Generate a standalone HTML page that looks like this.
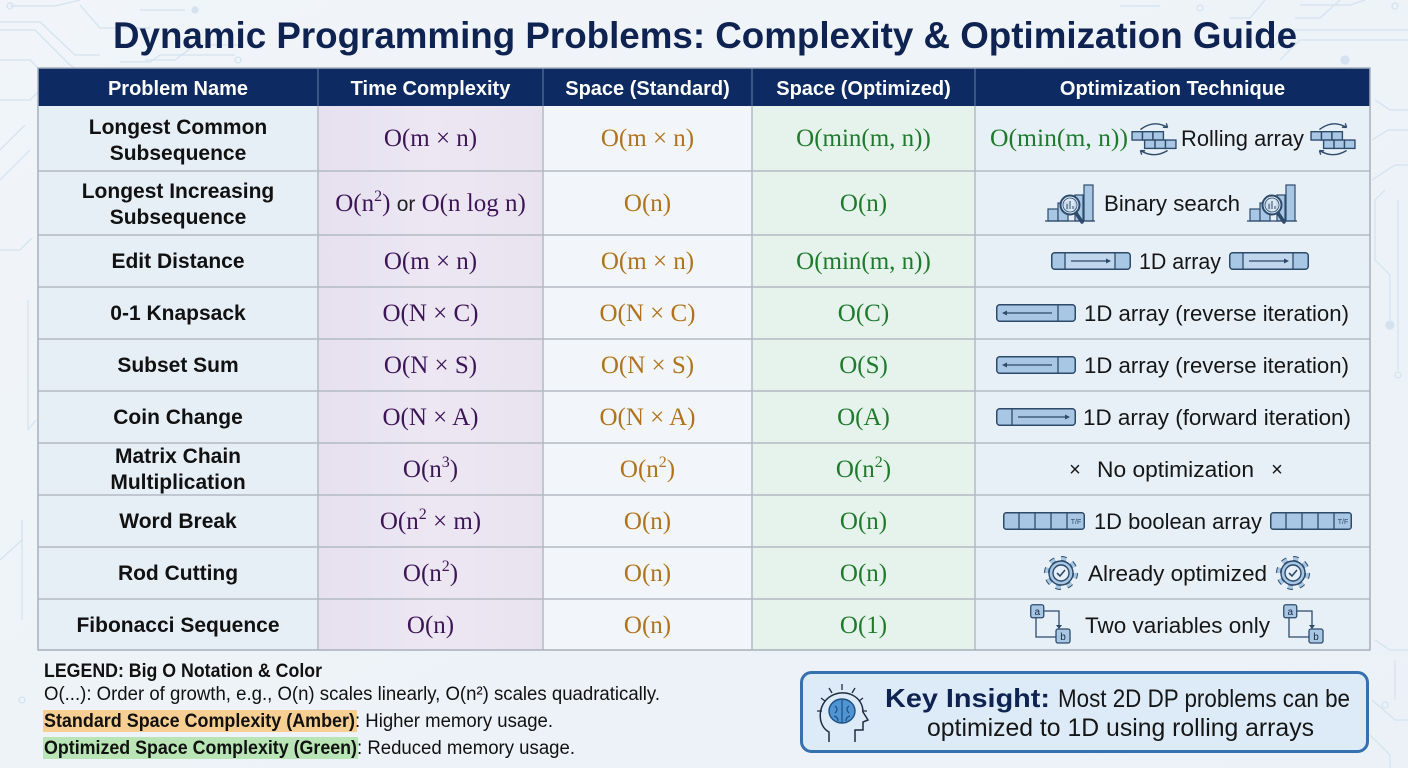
<!DOCTYPE html>
<html><head><meta charset="utf-8"><style>
html,body{margin:0;padding:0;background:#eef3f8;}
svg{display:block;}
</style></head><body>
<svg width="1408" height="768" viewBox="0 0 1408 768" xmlns="http://www.w3.org/2000/svg">
<defs>
<linearGradient id="bg" x1="0" y1="0" x2="1" y2="1"><stop offset="0" stop-color="#f1f5f9"/><stop offset="1" stop-color="#ebf1f7"/></linearGradient>
<linearGradient id="lav" x1="0" y1="0" x2="1" y2="0"><stop offset="0" stop-color="#e6e0ef"/><stop offset="0.5" stop-color="#ece7f3"/><stop offset="1" stop-color="#e9e3f0"/></linearGradient>
<symbol id="roll" viewBox="0 0 44 34">
<path d="M9 8 Q22 -2 35 6" fill="none" stroke="#2d4a6b" stroke-width="1.3"/>
<path d="M35 6 l-4.5 -0.3 M35 6 l-1.2 -4" stroke="#2d4a6b" stroke-width="1.3" fill="none"/>
<g fill="#a8c7e5" stroke="#2d4a6b" stroke-width="1.3">
<rect x="1" y="10" width="10" height="8"/><rect x="11" y="10" width="10" height="8"/><rect x="21" y="10" width="10" height="8"/>
<rect x="13" y="18" width="10" height="8"/><rect x="23" y="18" width="10" height="8"/><rect x="33" y="18" width="10" height="8"/>
</g>
<path d="M35 28 Q22 36 9 28" fill="none" stroke="#2d4a6b" stroke-width="1.3"/>
<path d="M9 28 l4.5 0.3 M9 28 l1.2 4" stroke="#2d4a6b" stroke-width="1.3" fill="none"/>
</symbol>
<symbol id="bs" viewBox="0 0 50 42">
<g fill="#a8c7e5" stroke="#2d4a6b" stroke-width="1.2">
<rect x="3" y="27" width="10" height="12"/><rect x="13" y="21" width="10" height="18"/><rect x="30" y="13" width="8" height="26"/><rect x="39" y="3" width="9" height="36"/>
</g>
<line x1="0" y1="39" x2="50" y2="39" stroke="#2d4a6b" stroke-width="1.2"/>
<line x1="31" y1="31" x2="37" y2="40" stroke="#2d4a6b" stroke-width="3.5" stroke-linecap="round"/>
<circle cx="25" cy="23" r="9.5" fill="#d7e6f4" fill-opacity="0.85" stroke="#2d4a6b" stroke-width="2"/>
<circle cx="25" cy="23" r="7" fill="none" stroke="#2d4a6b" stroke-width="0.8"/>
<path d="M22 27 v-5 M25 27 v-8 M28 27 v-3" stroke="#2d4a6b" stroke-width="1"/>
</symbol>
<symbol id="arrB" viewBox="0 0 80 18">
<rect x="0.75" y="0.75" width="78.5" height="16.5" rx="3" fill="#a8c7e5" stroke="#2d4a6b" stroke-width="1.5"/>
<rect x="14" y="1.5" width="50" height="15" fill="#bfd6ec"/>
<path d="M14 1 V17 M64 1 V17" stroke="#2d4a6b" stroke-width="1.3"/>
<line x1="20" y1="9" x2="56" y2="9" stroke="#2d4a6b" stroke-width="1.2"/>
<path d="M60 9 l-5 -2.5 v5z" fill="#2d4a6b"/>
</symbol>
<symbol id="arrRev" viewBox="0 0 80 18">
<rect x="0.75" y="0.75" width="78.5" height="16.5" rx="3" fill="#a8c7e5" stroke="#2d4a6b" stroke-width="1.5"/>
<path d="M62 1 V17" stroke="#2d4a6b" stroke-width="1.3"/>
<line x1="10" y1="9" x2="56" y2="9" stroke="#2d4a6b" stroke-width="1.2"/>
<path d="M6 9 l5 -2.5 v5z" fill="#2d4a6b"/>
</symbol>
<symbol id="arrFwd" viewBox="0 0 80 18">
<rect x="0.75" y="0.75" width="78.5" height="16.5" rx="3" fill="#a8c7e5" stroke="#2d4a6b" stroke-width="1.5"/>
<path d="M16 1 V17" stroke="#2d4a6b" stroke-width="1.3"/>
<line x1="22" y1="9" x2="70" y2="9" stroke="#2d4a6b" stroke-width="1.2"/>
<path d="M74 9 l-5 -2.5 v5z" fill="#2d4a6b"/>
</symbol>
<symbol id="bool" viewBox="0 0 82 18">
<rect x="0.75" y="0.75" width="80.5" height="16.5" rx="2.5" fill="#a8c7e5" stroke="#2d4a6b" stroke-width="1.5"/>
<path d="M16 1 V17 M32 1 V17 M48 1 V17 M64 1 V17" stroke="#2d4a6b" stroke-width="1.3"/>
<text x="73" y="12" font-family="Liberation Sans, sans-serif" font-size="7" text-anchor="middle" fill="#2d4a6b">T/F</text>
</symbol>
<symbol id="gear" viewBox="0 0 34 34">
<circle cx="17" cy="17" r="14.5" fill="none" stroke="#2d4a6b" stroke-width="5" stroke-dasharray="5.2 6.18"/>
<circle cx="17" cy="17" r="14.5" fill="none" stroke="#a8c7e5" stroke-width="3" stroke-dasharray="5.2 6.18"/>
<circle cx="17" cy="17" r="12" fill="#a8c7e5" stroke="#2d4a6b" stroke-width="1.4"/>
<circle cx="17" cy="17" r="8" fill="#e6eff8" stroke="#2d4a6b" stroke-width="1.4"/>
<path d="M13 17 l3 3 l5 -6" fill="none" stroke="#2d4a6b" stroke-width="1.6"/>
</symbol>
<symbol id="ab" viewBox="0 0 42 40">
<path d="M14 7 H29 V22 M6 14 V33 H26" fill="none" stroke="#2d4a6b" stroke-width="1.3"/>
<path d="M29 25 l-3 -4 h6z" fill="#2d4a6b"/>
<rect x="0.75" y="0.75" width="13" height="13" rx="2" fill="#a8c7e5" stroke="#2d4a6b" stroke-width="1.3"/>
<rect x="26" y="25" width="14" height="14" rx="2" fill="#a8c7e5" stroke="#2d4a6b" stroke-width="1.3"/>
<text x="7.3" y="11" font-family="Liberation Sans, sans-serif" font-size="10" text-anchor="middle" fill="#1a2a40">a</text>
<text x="33" y="36" font-family="Liberation Sans, sans-serif" font-size="10" text-anchor="middle" fill="#1a2a40">b</text>
</symbol>
</defs>

<rect width="1408" height="768" fill="url(#bg)"/>

<!-- circuit background -->
<g fill="none" stroke="#d3e2ee" stroke-width="1.2">
<path d="M10 6 H55 L80 0"/><circle cx="10" cy="6" r="3"/>
<path d="M0 22 H40 L75 55 H100"/><path d="M0 30 H35 L70 65 L95 80"/>
<path d="M80 5 L100 28 L150 28"/><path d="M0 60 H30 L60 90"/>
<path d="M145 60 L175 60 L195 45 H240"/><circle cx="195" cy="10" r="3" fill="#d3e2ee"/>
<path d="M140 10 H185"/><path d="M120 62 L150 62 L160 55 H235"/><circle cx="238" cy="60" r="3"/>
<path d="M0 100 H30 L45 85"/><path d="M0 150 L25 125"/><path d="M0 180 L30 150"/>
<path d="M0 250 H20 L32 238"/><path d="M28 300 V430"/><path d="M22 520 V620"/><circle cx="22" cy="700" r="3"/>
<path d="M0 560 L22 540 V520"/><path d="M28 430 L36 420"/>
<path d="M1120 6 H1160"/><circle cx="1200" cy="8" r="3"/><path d="M1265 0 L1250 18 H1230"/>
<path d="M1300 5 H1350 L1365 0"/><circle cx="1395" cy="6" r="3"/><path d="M1295 18 L1320 18 L1340 0"/>
<path d="M1280 60 L1300 40 H1408"/><path d="M1270 50 L1290 30 H1408"/><circle cx="1345" cy="60" r="4" fill="#d3e2ee"/>
<path d="M1375 100 L1390 110 H1408"/><path d="M1372 140 L1388 130 H1408"/><path d="M1372 180 L1395 165 H1408"/>
<path d="M1385 190 L1375 200 V260 L1390 275 V320"/><circle cx="1390" cy="325" r="4" fill="#d3e2ee"/>
<path d="M1398 200 V370"/><circle cx="1398" cy="375" r="3"/>
<path d="M1375 640 L1390 650 H1408"/><path d="M1372 700 L1395 720 H1408"/><path d="M1395 660 V700"/>
<path d="M1370 735 L1390 755 V768"/><circle cx="1385" cy="705" r="3"/>
</g>

<!-- title -->
<text x="705" y="48" text-anchor="middle" font-family="Liberation Sans, sans-serif" font-weight="bold" font-size="37" fill="#0f2352" textLength="1184" lengthAdjust="spacingAndGlyphs">Dynamic Programming Problems: Complexity &amp; Optimization Guide</text>

<!-- table column fills -->
<rect x="38" y="106" width="280" height="544" fill="#e6eef6"/>
<rect x="318" y="106" width="225" height="544" fill="url(#lav)"/>
<rect x="543" y="106" width="209" height="544" fill="#f2f5f9"/>
<rect x="752" y="106" width="223" height="544" fill="#e6f2ec"/>
<rect x="975" y="106" width="395" height="544" fill="#e8f0f7"/>

<!-- header -->
<rect x="38" y="68" width="1332" height="38" fill="#0d2b62"/>
<g stroke="#5a6f95" stroke-width="1.2"><path d="M318 68 V106 M543 68 V106 M752 68 V106 M975 68 V106"/></g>
<g font-family="Liberation Sans, sans-serif" font-weight="bold" font-size="20" fill="#ffffff" text-anchor="middle">
<text x="178" y="95">Problem Name</text>
<text x="430.5" y="95">Time Complexity</text>
<text x="647.5" y="95">Space (Standard)</text>
<text x="863.5" y="95">Space (Optimized)</text>
<text x="1172.5" y="95">Optimization Technique</text>
</g>

<!-- grid -->
<g stroke="#b3bac4" stroke-width="1.5" fill="none">
<path d="M38 171 H1370 M38 235 H1370 M38 287 H1370 M38 339 H1370 M38 391 H1370 M38 443 H1370 M38 495 H1370 M38 547 H1370 M38 599 H1370"/>
<path d="M318 106 V650 M543 106 V650 M752 106 V650 M975 106 V650"/>
<rect x="38" y="68" width="1332" height="582" stroke="#a7b0bb"/>
</g>

<!-- problem names -->
<g font-family="Liberation Sans, sans-serif" font-weight="bold" font-size="21" fill="#111111" text-anchor="middle">
<text x="178" y="134">Longest Common</text>
<text x="178" y="160">Subsequence</text>
<text x="178" y="198">Longest Increasing</text>
<text x="178" y="224">Subsequence</text>
<text x="178" y="268">Edit Distance</text>
<text x="178" y="320">0-1 Knapsack</text>
<text x="178" y="372">Subset Sum</text>
<text x="178" y="424">Coin Change</text>
<text x="178" y="463">Matrix Chain</text>
<text x="178" y="489">Multiplication</text>
<text x="178" y="528">Word Break</text>
<text x="178" y="580">Rod Cutting</text>
<text x="178" y="632">Fibonacci Sequence</text>
</g>

<!-- time complexity -->
<g font-family="Liberation Serif, serif" font-size="25" fill="#3d1557" text-anchor="middle">
<text x="430.5" y="146">O(m × n)</text>
<text x="430.5" y="211">O(n<tspan font-size="16" dy="-10">2</tspan><tspan dy="10">) </tspan><tspan font-family="Liberation Sans, sans-serif" font-size="21" fill="#222">or</tspan> O(n log n)</text>
<text x="430.5" y="269">O(m × n)</text>
<text x="430.5" y="321">O(N × C)</text>
<text x="430.5" y="373">O(N × S)</text>
<text x="430.5" y="425">O(N × A)</text>
<text x="430.5" y="477">O(n<tspan font-size="16" dy="-10">3</tspan><tspan dy="10">)</tspan></text>
<text x="430.5" y="529">O(n<tspan font-size="16" dy="-10">2</tspan><tspan dy="10"> × m)</tspan></text>
<text x="430.5" y="581">O(n<tspan font-size="16" dy="-10">2</tspan><tspan dy="10">)</tspan></text>
<text x="430.5" y="633">O(n)</text>
</g>

<!-- space standard -->
<g font-family="Liberation Serif, serif" font-size="25" fill="#b0731c" text-anchor="middle">
<text x="647.5" y="146">O(m × n)</text>
<text x="647.5" y="211">O(n)</text>
<text x="647.5" y="269">O(m × n)</text>
<text x="647.5" y="321">O(N × C)</text>
<text x="647.5" y="373">O(N × S)</text>
<text x="647.5" y="425">O(N × A)</text>
<text x="647.5" y="477">O(n<tspan font-size="16" dy="-10">2</tspan><tspan dy="10">)</tspan></text>
<text x="647.5" y="529">O(n)</text>
<text x="647.5" y="581">O(n)</text>
<text x="647.5" y="633">O(n)</text>
</g>

<!-- space optimized -->
<g font-family="Liberation Serif, serif" font-size="25" fill="#1e7b2c" text-anchor="middle">
<text x="863.5" y="146">O(min(m, n))</text>
<text x="863.5" y="211">O(n)</text>
<text x="863.5" y="269">O(min(m, n))</text>
<text x="863.5" y="321">O(C)</text>
<text x="863.5" y="373">O(S)</text>
<text x="863.5" y="425">O(A)</text>
<text x="863.5" y="477">O(n<tspan font-size="16" dy="-10">2</tspan><tspan dy="10">)</tspan></text>
<text x="863.5" y="529">O(n)</text>
<text x="863.5" y="581">O(n)</text>
<text x="863.5" y="633">O(1)</text>
</g>

<!-- optimization technique -->
<text x="990" y="146" font-family="Liberation Serif, serif" font-size="25" fill="#1e7b2c" textLength="138" lengthAdjust="spacingAndGlyphs">O(min(m, n))</text>
<use href="#roll" x="1131" y="121" width="46" height="36"/>
<use href="#roll" x="1310" y="121" width="46" height="36"/>
<use href="#bs" x="1045" y="182" width="50" height="42"/>
<use href="#bs" x="1247" y="182" width="50" height="42"/>
<use href="#arrB" x="1051" y="252" width="80" height="18"/>
<use href="#arrB" x="1229" y="252" width="80" height="18"/>
<use href="#arrRev" x="996" y="304" width="80" height="18"/>
<use href="#arrRev" x="996" y="356" width="80" height="18"/>
<use href="#arrFwd" x="996" y="408" width="80" height="18"/>
<use href="#bool" x="1003" y="512" width="82" height="18"/>
<use href="#bool" x="1270" y="512" width="82" height="18"/>
<use href="#gear" x="1044" y="556" width="34" height="34"/>
<use href="#gear" x="1276" y="556" width="34" height="34"/>
<use href="#ab" x="1030" y="604" width="42" height="40"/>
<use href="#ab" x="1283" y="604" width="42" height="40"/>
<g font-family="Liberation Sans, sans-serif" font-size="22" fill="#161616">
<text x="1181" y="146" textLength="123" lengthAdjust="spacingAndGlyphs">Rolling array</text>
<text x="1104" y="211" textLength="136" lengthAdjust="spacingAndGlyphs">Binary search</text>
<text x="1139" y="269" textLength="82" lengthAdjust="spacingAndGlyphs">1D array</text>
<text x="1084" y="321" textLength="265" lengthAdjust="spacingAndGlyphs">1D array (reverse iteration)</text>
<text x="1084" y="373" textLength="265" lengthAdjust="spacingAndGlyphs">1D array (reverse iteration)</text>
<text x="1083" y="425" textLength="268" lengthAdjust="spacingAndGlyphs">1D array (forward iteration)</text>
<text x="1075" y="476" text-anchor="middle" font-size="20">×</text>
<text x="1097" y="477" textLength="157" lengthAdjust="spacingAndGlyphs">No optimization</text>
<text x="1277" y="476" text-anchor="middle" font-size="20">×</text>
<text x="1094" y="529" textLength="168" lengthAdjust="spacingAndGlyphs">1D boolean array</text>
<text x="1088" y="581" textLength="179" lengthAdjust="spacingAndGlyphs">Already optimized</text>
<text x="1085" y="633" textLength="185" lengthAdjust="spacingAndGlyphs">Two variables only</text>
</g>

<!-- legend -->
<rect x="43" y="710" width="314" height="22" fill="#f8cf92"/>
<rect x="43" y="737" width="315" height="22" fill="#b9e5b6"/>
<g font-family="Liberation Sans, sans-serif" font-size="19" fill="#111111">
<text x="44" y="677" font-weight="bold" textLength="278" lengthAdjust="spacingAndGlyphs">LEGEND: Big O Notation &amp; Color</text>
<text x="44" y="700" textLength="616" lengthAdjust="spacingAndGlyphs">O(...): Order of growth, e.g., O(n) scales linearly, O(n²) scales quadratically.</text>
<text x="44" y="727" font-weight="bold" textLength="311" lengthAdjust="spacingAndGlyphs">Standard Space Complexity (Amber)</text>
<text x="355" y="727" textLength="198" lengthAdjust="spacingAndGlyphs">: Higher memory usage.</text>
<text x="44" y="754" font-weight="bold" textLength="313" lengthAdjust="spacingAndGlyphs">Optimized Space Complexity (Green)</text>
<text x="357" y="754" textLength="218" lengthAdjust="spacingAndGlyphs">: Reduced memory usage.</text>
</g>

<!-- key insight -->
<rect x="801.5" y="672.5" width="566" height="79" rx="10" fill="#dcebf7" stroke="#3471ae" stroke-width="3"/>
<g transform="translate(815,682)">
<path d="M14 60 V50 C2 44 2 22 16 14 C30 6 48 14 48 30 L53 38 L48 40 V48 H40 V60" fill="none" stroke="#1f2d40" stroke-width="1.5"/>
<ellipse cx="27" cy="29" rx="13" ry="12" fill="#4f95d3" stroke="#1f4f80" stroke-width="1.4"/>
<path d="M27 18 V41 M20 24 q4 3 0 7 M34 24 q-4 3 0 7 M19 34 q4 1 4 5 M35 34 q-4 1 -4 5" fill="none" stroke="#1f4f80" stroke-width="1.2"/>
<path d="M27 2 V8 M14 6 L17 11 M40 6 L37 11 M6 16 L10 19 M48 16 L44 19 M2 29 H7 M47 29 H52" stroke="#1f2d40" stroke-width="1.3"/>
</g>
<text x="885" y="707" font-family="Liberation Sans, sans-serif" font-weight="bold" font-size="26" fill="#0f2352" textLength="165" lengthAdjust="spacingAndGlyphs">Key Insight:</text>
<text x="1058" y="707" font-family="Liberation Sans, sans-serif" font-size="25" fill="#161616" textLength="292" lengthAdjust="spacingAndGlyphs">Most 2D DP problems can be</text>
<text x="927" y="736" font-family="Liberation Sans, sans-serif" font-size="25" fill="#161616" textLength="387" lengthAdjust="spacingAndGlyphs">optimized to 1D using rolling arrays</text>
</svg>
</body></html>
